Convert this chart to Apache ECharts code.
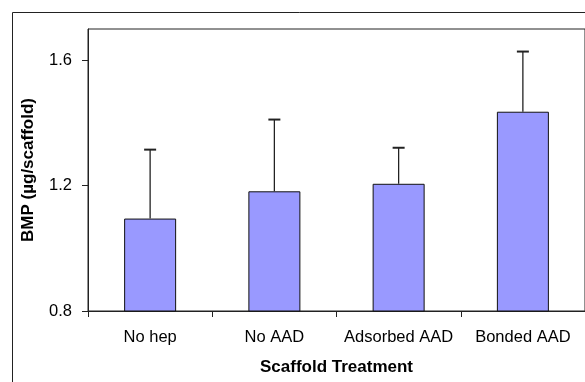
<!DOCTYPE html>
<html>
<head>
<meta charset="utf-8">
<script src="https://cdn.jsdelivr.net/npm/echarts@6/dist/echarts.min.js"></script>
<style>
html,body{margin:0;padding:0;background:#fff;}
#chart{width:585px;height:382px;}
</style>
</head>
<body>
<div id="chart"></div>
<script>
const categories = ['No hep', 'No AAD', 'Adsorbed AAD', 'Bonded AAD'];
const bmpMeans = [1.095, 1.182, 1.206, 1.436];
const bmpErrors = [0.22, 0.229, 0.115, 0.192];
const yTicks = { min: 0.8, max: 1.7, interval: 0.4 };

const chart = echarts.init(document.getElementById('chart'), null, { renderer: 'canvas' });
const font = 'Liberation Sans, Arial, sans-serif';

chart.setOption({
  animation: false,
  backgroundColor: '#fff',
  graphic: [{
    type: 'rect',
    shape: { x: 12.5, y: 12.5, width: 700, height: 500 },
    style: { fill: 'none', stroke: '#222', lineWidth: 1 },
    z: -1
  }],
  grid: {
    left: 88, top: 29, width: 509, height: 282,
    show: true, borderColor: '#222', borderWidth: 1, backgroundColor: 'transparent'
  },
  xAxis: {
    type: 'category',
    data: categories,
    name: 'Scaffold Treatment',
    nameLocation: 'middle',
    nameGap: 48,
    nameTextStyle: { fontFamily: font, fontWeight: 'bold', fontSize: 17, color: '#000' },
    axisLine: { show: true, lineStyle: { color: '#222', width: 1 } },
    axisTick: { show: true, length: 6, lineStyle: { color: '#222' } },
    axisLabel: { fontFamily: font, fontSize: 16.5, color: '#000', margin: 18, interval: 0, hideOverlap: false },
    splitLine: { show: false }
  },
  yAxis: {
    type: 'value',
    min: yTicks.min, max: yTicks.max, interval: yTicks.interval,
    name: 'BMP (µg/scaffold)',
    nameLocation: 'middle',
    nameRotate: 90,
    nameGap: 51,
    nameTextStyle: { fontFamily: font, fontWeight: 'bold', fontSize: 17, color: '#000' },
    axisLine: { show: true, lineStyle: { color: '#222', width: 1 } },
    axisTick: { show: true, length: 6, lineStyle: { color: '#222' } },
    axisLabel: { fontFamily: font, fontSize: 16.5, color: '#000', margin: 16, showMaxLabel: false,
      formatter: v => v.toFixed(1) },
    splitLine: { show: false }
  },
  series: [{
    type: 'bar',
    data: bmpMeans,
    barWidth: 52,
    itemStyle: { color: '#9999FF', borderColor: '#111', borderWidth: 1 },
    z: 2
  }, {
    type: 'custom',
    data: bmpMeans.map((m, i) => [i, m, bmpErrors[i]]),
    z: 3,
    renderItem: function (params, api) {
      const x = api.value(0);
      const m = api.value(1);
      const e = api.value(2);
      const base = api.coord([x, m]);
      const top = api.coord([x, m + e]);
      return {
        type: 'group',
        children: [{
          type: 'line',
          shape: { x1: base[0], y1: base[1], x2: top[0], y2: top[1] },
          style: { stroke: '#222', lineWidth: 1.3 }
        }, {
          type: 'line',
          shape: { x1: top[0] - 6, y1: top[1], x2: top[0] + 6, y2: top[1] },
          style: { stroke: '#222', lineWidth: 2 }
        }]
      };
    }
  }]
});
</script>
</body>
</html>
